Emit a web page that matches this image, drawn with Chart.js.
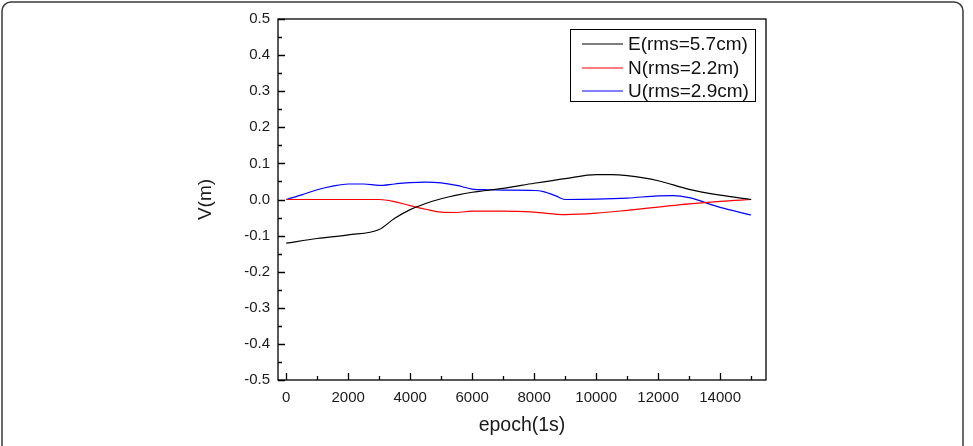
<!DOCTYPE html>
<html>
<head>
<meta charset="utf-8">
<script src="https://cdn.jsdelivr.net/npm/chart.js@4/dist/chart.umd.min.js"></script>
<style>
  html, body { margin: 0; padding: 0; background: #fff; }
  #wrap { width: 973px; height: 446px; position: relative; }
</style>
</head>
<body>
<div id="wrap"><canvas id="c" width="973" height="446"></canvas></div>
<script>
// ---- data ----
const seriesLabels = ["E(rms=5.7cm)", "N(rms=2.2m)", "U(rms=2.9cm)"];

const epochE = [0, 1000, 2000, 3000, 3500, 4000, 4500, 5000, 5500, 6000, 7000, 8000, 9000, 10000, 10500, 11000, 12000, 13000, 14000, 15000];
const valuesE = [-0.121, -0.108, -0.098, -0.083, -0.052, -0.028, -0.011, 0.002, 0.012, 0.020, 0.031, 0.045, 0.058, 0.069, 0.069, 0.066, 0.052, 0.028, 0.012, 0.000];

const epochN = [0, 1000, 2000, 3000, 3500, 4000, 4500, 5000, 5500, 6000, 7000, 8000, 9000, 10000, 11000, 12000, 13000, 14000, 15000];
const valuesN = [0.000, 0.000, 0.000, 0.000, -0.006, -0.017, -0.027, -0.035, -0.036, -0.032, -0.032, -0.035, -0.042, -0.038, -0.030, -0.021, -0.012, -0.005, 0.000];

const epochU = [0, 500, 1000, 1500, 2000, 2500, 3000, 3500, 4000, 4500, 5000, 5500, 6000, 6500, 7000, 8000, 8300, 8700, 9000, 10000, 11000, 12000, 12500, 13000, 14000, 15000];
const valuesU = [0.000, 0.013, 0.027, 0.037, 0.043, 0.043, 0.039, 0.043, 0.047, 0.048, 0.046, 0.039, 0.029, 0.027, 0.026, 0.025, 0.022, 0.010, 0.000, 0.001, 0.004, 0.010, 0.011, 0.005, -0.022, -0.043];

const seriesColors = ["#000000", "#ff0000", "#0000ff"];

const xMajorTicks = [0, 2000, 4000, 6000, 8000, 10000, 12000, 14000];
const xMinorTicks = [1000, 3000, 5000, 7000, 9000, 11000, 13000, 15000];
const yMajorTicks = [-0.5, -0.4, -0.3, -0.2, -0.1, 0.0, 0.1, 0.2, 0.3, 0.4, 0.5];
const yMinorTicks = [-0.45, -0.35, -0.25, -0.15, -0.05, 0.05, 0.15, 0.25, 0.35, 0.45];

const xTitle = "epoch(1s)";
const yTitle = "V(m)";

function pts(xs, ys) { return xs.map((x, i) => ({ x: x, y: ys[i] })); }

const FONT = "'Liberation Sans', Arial, sans-serif";

const framePlugin = {
  id: 'frame',
  beforeDraw(chart) {
    const ctx = chart.ctx;
    ctx.save();
    ctx.fillStyle = '#fff';
    ctx.fillRect(0, 0, chart.width, chart.height);
    const r = 9, l = 2, t = 2, rt = 963, b = chart.height + 10;
    ctx.strokeStyle = '#3a3a3a';
    ctx.lineWidth = 1.5;
    ctx.beginPath();
    ctx.moveTo(l, b);
    ctx.lineTo(l, t + r);
    ctx.arcTo(l, t, l + r, t, r);
    ctx.lineTo(rt - r, t);
    ctx.arcTo(rt, t, rt, t + r, r);
    ctx.lineTo(rt, b);
    ctx.stroke();
    ctx.restore();
  },
  afterDraw(chart) {
    const ctx = chart.ctx;
    const a = chart.chartArea;
    const xs = chart.scales.x, ys = chart.scales.y;
    ctx.save();
    ctx.strokeStyle = '#000';
    ctx.lineWidth = 1.3;
    ctx.strokeRect(a.left, a.top, a.right - a.left, a.bottom - a.top);
    ctx.beginPath();
    xMajorTicks.forEach(v => { const p = Math.round(xs.getPixelForValue(v)) + 0.5; ctx.moveTo(p, a.bottom); ctx.lineTo(p, a.bottom - 7); });
    xMinorTicks.forEach(v => { const p = Math.round(xs.getPixelForValue(v)) + 0.5; ctx.moveTo(p, a.bottom); ctx.lineTo(p, a.bottom - 4); });
    yMajorTicks.forEach(v => { const p = Math.round(ys.getPixelForValue(v)) + 0.5; ctx.moveTo(a.left, p); ctx.lineTo(a.left + 7, p); });
    yMinorTicks.forEach(v => { const p = Math.round(ys.getPixelForValue(v)) + 0.5; ctx.moveTo(a.left, p); ctx.lineTo(a.left + 4, p); });
    ctx.stroke();

    // legend box inside plot (top-right)
    const bx1 = a.right - 196, bx2 = a.right - 11, by1 = a.top + 10, by2 = a.top + 82;
    ctx.fillStyle = '#fff';
    ctx.fillRect(bx1, by1, bx2 - bx1, by2 - by1);
    ctx.lineWidth = 1;
    ctx.strokeStyle = '#000';
    ctx.strokeRect(bx1 + 0.5, by1 + 0.5, bx2 - bx1, by2 - by1);
    ctx.font = '19px ' + FONT;
    ctx.textBaseline = 'middle';
    ctx.textAlign = 'left';
    chart.data.datasets.forEach((ds, i) => {
      const yy = Math.round(by1 + 15 + i * 23.5);
      ctx.strokeStyle = ds.borderColor;
      ctx.lineWidth = 1.2;
      ctx.beginPath();
      ctx.moveTo(bx1 + 12, yy);
      ctx.lineTo(bx1 + 53, yy);
      ctx.stroke();
      ctx.fillStyle = '#111';
      ctx.fillText(ds.label, bx1 + 58, yy + 1);
    });
    ctx.restore();
  }
};

new Chart(document.getElementById('c'), {
  type: 'line',
  data: {
    datasets: [
      { label: seriesLabels[0], data: pts(epochE, valuesE), borderColor: seriesColors[0] },
      { label: seriesLabels[1], data: pts(epochN, valuesN), borderColor: seriesColors[1] },
      { label: seriesLabels[2], data: pts(epochU, valuesU), borderColor: seriesColors[2] }
    ]
  },
  options: {
    responsive: false,
    animation: false,
    events: [],
    elements: {
      point: { radius: 0 },
      line: { borderWidth: 1.2, cubicInterpolationMode: 'monotone', fill: false }
    },
    layout: { padding: { left: 194, top: 19, right: 207, bottom: 9 } },
    plugins: { legend: { display: false }, tooltip: { enabled: false } },
    scales: {
      x: {
        type: 'linear',
        min: -265,
        max: 15480,
        grid: { display: false, drawTicks: false },
        border: { display: false },
        afterBuildTicks: s => { s.ticks = xMajorTicks.map(v => ({ value: v })); },
        afterFit: s => { s.height = 57; },
        ticks: {
          padding: 9,
          maxRotation: 0,
          autoSkip: false,
          color: '#1a1a1a',
          font: { family: FONT, size: 15 },
          callback: v => String(v)
        },
        title: { display: true, text: xTitle, color: '#1a1a1a', padding: 0, font: { family: FONT, size: 19.5 } }
      },
      y: {
        type: 'linear',
        min: -0.5,
        max: 0.5,
        grid: { display: false, drawTicks: false },
        border: { display: false },
        afterBuildTicks: s => { s.ticks = yMajorTicks.map(v => ({ value: v })); },
        afterFit: s => { s.width = 84; },
        ticks: {
          padding: 8,
          autoSkip: false,
          color: '#1a1a1a',
          font: { family: FONT, size: 15 },
          callback: v => Number(v).toFixed(1)
        },
        title: { display: true, text: yTitle, color: '#1a1a1a', padding: 0, font: { family: FONT, size: 19 } }
      }
    }
  },
  plugins: [framePlugin]
});
</script>
</body>
</html>
